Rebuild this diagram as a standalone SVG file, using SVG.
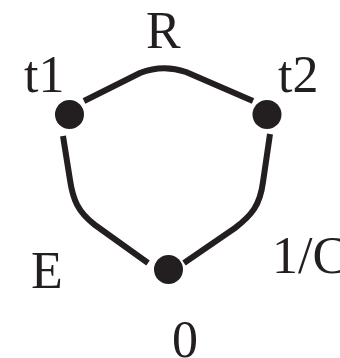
<svg xmlns="http://www.w3.org/2000/svg" width="340" height="358" viewBox="0 0 340 358">
<style>
text{font-family:'Liberation Serif','Times New Roman',serif;font-size:52px;fill:#231f20}
.node{fill:#231f20}
.edge{fill:none;stroke:#231f20;stroke-width:6;stroke-linecap:butt;stroke-linejoin:round}
</style>
<rect width="340" height="358" fill="#ffffff"/>
<g id="connectors">
<path class="edge" d="M 84 101 L 140 73 Q 163 64 186 72 L 253 101"/>
<path class="edge" d="M 63 136 L 70 180 C 73 200 78 212 95 225 L 148 263"/>
<path class="edge" d="M 270 134 L 263 182 C 260 205 252 215 235 228 L 184 263"/>
</g>
<g id="node-t1"><circle class="node" cx="69.5" cy="114.5" r="14.5"/><text x="24" y="92">t1</text></g>
<g id="node-t2"><circle class="node" cx="267" cy="114.5" r="14.5"/><text x="278" y="92">t2</text></g>
<g id="node-0"><circle class="node" cx="168.5" cy="269.5" r="14.5"/><text x="172" y="357">0</text></g>
<text x="146" y="48">R</text>
<text x="31" y="288">E</text>
<text x="272" y="273">1/C</text>
</svg>
